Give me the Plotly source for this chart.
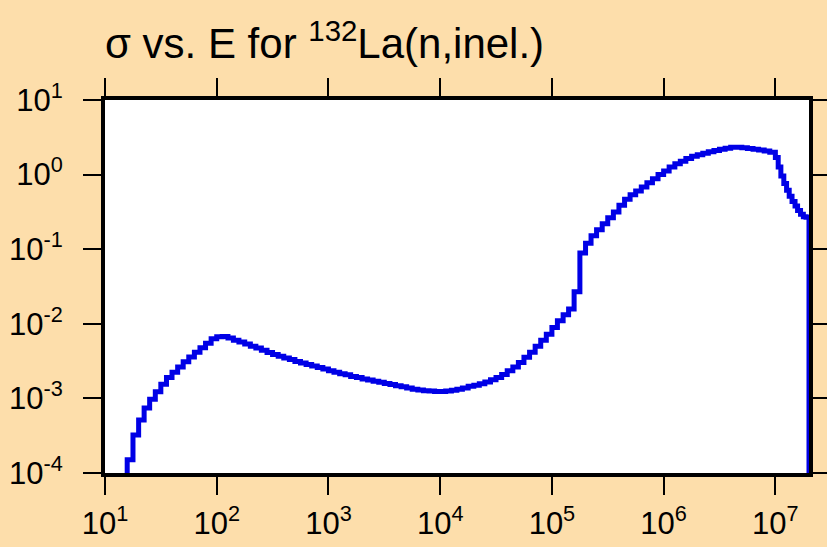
import plotly.graph_objects as go

# group energies (eV), lower edge of each step
energy = [
    10,
    15.8, 17.8, 20.0, 22.4, 25.1, 28.2, 31.6, 35.5, 39.8, 44.7, 50.1, 56.2, 63.1, 70.8, 79.4, 89.1,
    100, 112, 126, 141, 158, 178, 200, 224, 251, 282, 316, 355, 398, 447, 501, 562, 631, 708, 794, 891,
    1000, 1120, 1260, 1410, 1580, 1780, 2000, 2240, 2510, 2820, 3160, 3550, 3980, 4470, 5010, 5620, 6310, 7080, 7940, 8910,
    1.00e4, 1.12e4, 1.26e4, 1.41e4, 1.58e4, 1.78e4, 2.00e4, 2.24e4, 2.51e4, 2.82e4,
    3.16e4, 3.55e4, 3.98e4, 4.47e4, 5.01e4, 5.62e4, 6.31e4, 7.08e4, 7.94e4, 8.91e4,
    1.00e5, 1.12e5, 1.26e5, 1.41e5, 1.58e5, 1.78e5, 2.00e5, 2.24e5, 2.51e5, 2.82e5,
    3.16e5, 3.55e5, 3.98e5, 4.47e5, 5.01e5, 5.62e5, 6.31e5, 7.08e5, 7.94e5, 8.91e5,
    1.00e6, 1.12e6, 1.26e6, 1.41e6, 1.58e6, 1.78e6, 2.00e6, 2.24e6, 2.51e6, 2.82e6,
    3.16e6, 3.55e6, 3.98e6, 4.47e6, 5.01e6, 5.62e6, 6.31e6, 7.08e6, 7.94e6, 8.91e6,
    1.00e7, 1.06e7, 1.12e7, 1.19e7, 1.26e7, 1.33e7, 1.41e7, 1.50e7, 1.58e7, 1.68e7, 1.78e7, 1.88e7,
    2.00e7,
]

# cross section (b)
sigma = [
    1e-6,
    1.51e-4, 3.24e-4, 5.13e-4, 7.41e-4, 9.77e-4, 1.23e-3, 1.55e-3, 1.91e-3, 2.24e-3, 2.63e-3, 3.09e-3, 3.59e-3, 4.17e-3, 4.79e-3, 5.50e-3, 6.31e-3,
    6.68e-3, 6.76e-3, 6.46e-3, 6.03e-3, 5.69e-3, 5.37e-3, 5.01e-3, 4.73e-3, 4.42e-3, 4.12e-3,
    3.89e-3, 3.67e-3, 3.47e-3, 3.31e-3, 3.13e-3, 2.99e-3, 2.85e-3, 2.72e-3, 2.60e-3, 2.48e-3,
    2.34e-3, 2.24e-3, 2.14e-3, 2.07e-3, 1.97e-3, 1.91e-3, 1.82e-3, 1.76e-3, 1.70e-3, 1.64e-3,
    1.58e-3, 1.53e-3, 1.48e-3, 1.43e-3, 1.38e-3, 1.33e-3, 1.30e-3, 1.27e-3, 1.26e-3, 1.24e-3,
    1.24e-3, 1.26e-3, 1.29e-3, 1.33e-3, 1.38e-3, 1.45e-3, 1.50e-3, 1.57e-3, 1.66e-3, 1.78e-3,
    1.91e-3, 2.09e-3, 2.34e-3, 2.63e-3, 3.02e-3, 3.55e-3, 4.17e-3, 5.01e-3, 6.03e-3, 7.24e-3,
    8.91e-3, 1.10e-2, 1.32e-2, 1.58e-2, 2.69e-2, 8.91e-2, 0.120, 0.151, 0.182, 0.219,
    0.263, 0.316, 0.389, 0.468, 0.537, 0.603, 0.684, 0.776, 0.881, 1.00,
    1.12, 1.26, 1.40, 1.51, 1.64, 1.76, 1.84, 1.93, 2.02, 2.11,
    2.19, 2.26, 2.32, 2.32, 2.29, 2.24, 2.19, 2.14, 2.07, 2.00,
    1.70, 1.26, 0.955, 0.759, 0.617, 0.513, 0.437, 0.380, 0.331, 0.295, 0.272, 0.268,
    1e-6,
]

x_ticks = [1e1, 1e2, 1e3, 1e4, 1e5, 1e6, 1e7]
x_labels = ["10<sup>1</sup>", "10<sup>2</sup>", "10<sup>3</sup>", "10<sup>4</sup>",
            "10<sup>5</sup>", "10<sup>6</sup>", "10<sup>7</sup>"]
y_ticks = [1e-4, 1e-3, 1e-2, 1e-1, 1e0, 1e1]
y_labels = ["10<sup>-4</sup>", "10<sup>-3</sup>", "10<sup>-2</sup>", "10<sup>-1</sup>",
            "10<sup>0</sup>", "10<sup>1</sup>"]

bg = "#FDDEAB"
font = "Liberation Sans, Arial, sans-serif"

fig = go.Figure()
fig.add_trace(go.Scatter(
    x=energy, y=sigma, mode="lines",
    line=dict(color="#0000E6", width=5, shape="hv"),
    showlegend=False,
))

axis_style = dict(
    type="log",
    automargin=False,
    showgrid=False,
    zeroline=False,
    showline=True,
    linecolor="black",
    linewidth=4,
    mirror="allticks",
    ticks="outside",
    ticklen=18,
    tickwidth=2,
    tickcolor="black",
    tickfont=dict(family=font, size=31, color="black"),
)

fig.update_xaxes(range=[1, 7.301], tickvals=x_ticks, ticktext=x_labels,
                 ticklabelstandoff=2, **axis_style)
fig.update_yaxes(range=[-4, 1], tickvals=y_ticks, ticktext=y_labels,
                 ticklabelstandoff=14, **axis_style)

fig.update_layout(
    width=827, height=547,
    paper_bgcolor=bg,
    plot_bgcolor="white",
    margin=dict(l=105, r=18, t=100, b=74),
    title=dict(
        text="σ vs. E for <sup>132</sup>La(n,inel.)",
        font=dict(family=font, size=42, color="black"),
        x=0, xref="paper", xanchor="left",
        y=0.92, yref="container", yanchor="middle",
    ),
)

# drop the default page margin so the figure sits at the window's top-left
fig.write_html("out.html", config={"displayModeBar": False},
               post_script="document.body.style.margin='0';")
